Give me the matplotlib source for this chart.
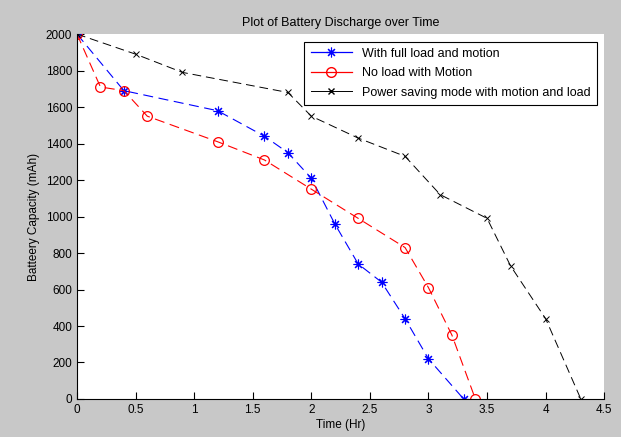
import numpy as np
import matplotlib.pyplot as plt
from matplotlib.lines import Line2D

plt.rcParams['font.family'] = ['Liberation Sans', 'DejaVu Sans']

# full load and motion
t1 = [0, 0.4, 1.2, 1.6, 1.8, 2.0, 2.2, 2.4, 2.6, 2.8, 3.0, 3.3]
c1 = [2000, 1690, 1580, 1440, 1350, 1210, 960, 740, 640, 440, 220, 0]
# no load with motion
t2 = [0, 0.2, 0.4, 0.6, 1.2, 1.6, 2.0, 2.4, 2.8, 3.0, 3.2, 3.4]
c2 = [2000, 1710, 1690, 1550, 1410, 1310, 1150, 990, 830, 610, 350, 0]
# power saving mode
t3 = [0, 0.5, 0.9, 1.8, 2.0, 2.4, 2.8, 3.1, 3.5, 3.7, 4.0, 4.3]
c3 = [2000, 1890, 1790, 1680, 1550, 1430, 1330, 1120, 990, 730, 440, 0]

labels = ['With full load and motion', 'No load with Motion',
          'Power saving mode with motion and load']

star = (8, 2, 0)
dash = (0, (9, 5))

fig = plt.figure(figsize=(6.21, 4.37), dpi=100, facecolor='#c8c8c8')
ax = fig.add_axes([0.124, 0.087, 0.849, 0.835])
ax.set_facecolor('white')

ax.plot(t1, c1, color='blue', ls=dash, lw=0.8, marker=star, ms=7, mew=0.8)
ax.plot(t2, c2, color='red', ls=dash, lw=0.8, marker='o', ms=7,
        mfc='none', mew=0.9)
ax.plot(t3, c3, color='black', ls=dash, lw=0.7, marker='x', ms=4, mew=0.7)

handles = [Line2D([], [], color='blue', lw=0.9, marker=star, ms=7, mew=0.8),
           Line2D([], [], color='red', lw=0.9, marker='o', ms=7, mfc='none'),
           Line2D([], [], color='black', lw=0.7, marker='x', ms=4)]
leg = ax.legend(handles, labels, loc='upper right', fontsize=9, fancybox=False,
                framealpha=1, edgecolor='black', borderaxespad=0.6,
                handlelength=3.3, labelspacing=0.6, borderpad=0.5)
leg.get_frame().set_linewidth(0.8)

ax.set_xlim(0, 4.5)
ax.set_ylim(0, 2000)
ax.set_xticks(np.arange(0, 4.6, 0.5))
ax.set_xticklabels(['0', '0.5', '1', '1.5', '2', '2.5', '3', '3.5', '4', '4.5'])
ax.set_yticks(np.arange(0, 2001, 200))
ax.spines['top'].set_visible(False)
ax.spines['right'].set_visible(False)
ax.tick_params(direction='in', labelsize=8.5, length=5)
ax.set_xlabel('Time (Hr)', fontsize=8.5, labelpad=2)
ax.set_ylabel('Batteery Capacity (mAh)', fontsize=8.5)
ax.set_title('Plot of Battery Discharge over Time', fontsize=9, pad=6)

fig.savefig('out.png', dpi=100, facecolor=fig.get_facecolor())
